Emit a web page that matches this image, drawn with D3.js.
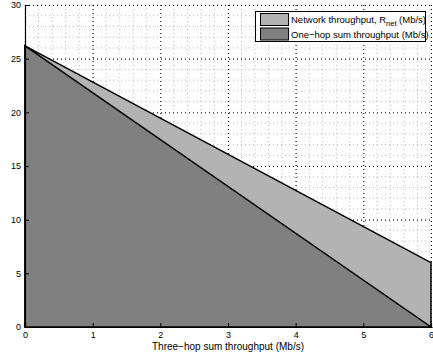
<!DOCTYPE html>
<html><head><meta charset="utf-8">
<script src="https://cdn.jsdelivr.net/npm/d3@7"></script>
<style>
html,body{margin:0;padding:0;background:#fff;}
svg{display:block;font-family:"Liberation Sans",Arial,sans-serif;}
</style></head>
<body>
<svg id="chart" width="433" height="362"></svg>
<script>
// Three-hop sum throughput (Mb/s) at the region corners
const xValues = [0, 6];
// Network throughput R_net (Mb/s)
const netThroughput = [26.2, 6];
// One-hop sum throughput (Mb/s)
const oneHopThroughput = [26.2, 0];
const xTicks = [0, 1, 2, 3, 4, 5, 6];
const yTicks = [0, 5, 10, 15, 20, 25, 30];
const legendLabels = ["Network throughput, R", "One\u2212hop sum throughput (Mb/s)"];
const xLabel = "Three\u2212hop sum throughput (Mb/s)";

const svg = d3.select("#chart");
const m = {left: 25, right: 431, top: 5, bottom: 327};
const x = d3.scaleLinear().domain([0, 6]).range([m.left, m.right]);
const y = d3.scaleLinear().domain([0, 30]).range([m.bottom, m.top]);

// minor grid
const g = svg.append("g");
g.selectAll(".mx").data(d3.range(0, 6.001, 0.2)).join("line")
  .attr("x1", d => x(d)).attr("x2", d => x(d)).attr("y1", m.top).attr("y2", m.bottom)
  .attr("stroke", "#b8b8b8").attr("stroke-width", 1).attr("stroke-dasharray", "1,3");
g.selectAll(".my").data(d3.range(0, 30.001, 1)).join("line")
  .attr("y1", d => y(d)).attr("y2", d => y(d)).attr("x1", m.left).attr("x2", m.right)
  .attr("stroke", "#b8b8b8").attr("stroke-width", 1).attr("stroke-dasharray", "1,3");
// major grid
g.selectAll(".Mx").data(xTicks).join("line")
  .attr("x1", d => x(d) + 0.5).attr("x2", d => x(d) + 0.5).attr("y1", m.top).attr("y2", m.bottom)
  .attr("stroke", "#000").attr("stroke-width", 1).attr("stroke-dasharray", "1,3");
g.selectAll(".My").data(yTicks).join("line")
  .attr("y1", d => y(d) + 0.5).attr("y2", d => y(d) + 0.5).attr("x1", m.left).attr("x2", m.right)
  .attr("stroke", "#000").attr("stroke-width", 1).attr("stroke-dasharray", "1,3");

// stacked areas
const netPts = xValues.map((v, i) => [v, netThroughput[i]]);
const hopPts = xValues.map((v, i) => [v, oneHopThroughput[i]]);
const area = d3.area().x(d => x(d[0])).y0(y(0)).y1(d => y(d[1]));
svg.append("path").datum(netPts).attr("d", area)
  .attr("fill", "#b3b3b3").attr("stroke", "#000").attr("stroke-width", 1.5);
svg.append("path").datum(hopPts).attr("d", area)
  .attr("fill", "#808080").attr("stroke", "#000").attr("stroke-width", 1.5);

// axes
const xAxis = d3.axisBottom(x).tickValues(xTicks).tickSize(-4).tickPadding(5).tickFormat(d3.format("d"));
const yAxis = d3.axisLeft(y).tickValues(yTicks).tickSize(-4).tickPadding(4).tickFormat(d3.format("d"));
const ax = svg.append("g").attr("transform", `translate(0,${m.bottom})`).call(xAxis);
const ay = svg.append("g").attr("transform", `translate(${m.left},0)`).call(yAxis);
[ax, ay].forEach(a => {
  a.select(".domain").attr("stroke", "#000").attr("stroke-width", 1.2);
  a.selectAll(".tick line").attr("stroke", "#000");
  a.selectAll("text").attr("font-size", 9).attr("fill", "#000")
    .attr("font-family", "Liberation Sans, Arial, sans-serif");
});

svg.append("text").attr("x", x(3)).attr("y", 350).attr("text-anchor", "middle")
  .attr("font-size", 10).text(xLabel);

// legend
const lg = svg.append("g");
lg.append("rect").attr("x", 255.5).attr("y", 11.5).attr("width", 170).attr("height", 30)
  .attr("fill", "#fff").attr("stroke", "#000").attr("stroke-width", 1);
const fills = ["#b3b3b3", "#808080"];
fills.forEach((f, i) => {
  lg.append("rect").attr("x", 260.5).attr("y", 13.5 + i * 14.5).attr("width", 28).attr("height", 12)
    .attr("fill", f).attr("stroke", "#000").attr("stroke-width", 1);
});
const t1 = lg.append("text").attr("x", 291).attr("y", 23).attr("font-size", 9.5).text(legendLabels[0]);
t1.append("tspan").attr("dy", 3).attr("font-size", 7.5).text("net");
t1.append("tspan").attr("dy", -3).text(" (Mb/s)");
lg.append("text").attr("x", 291).attr("y", 37.5).attr("font-size", 9.5).text(legendLabels[1]);
</script>
</body></html>
